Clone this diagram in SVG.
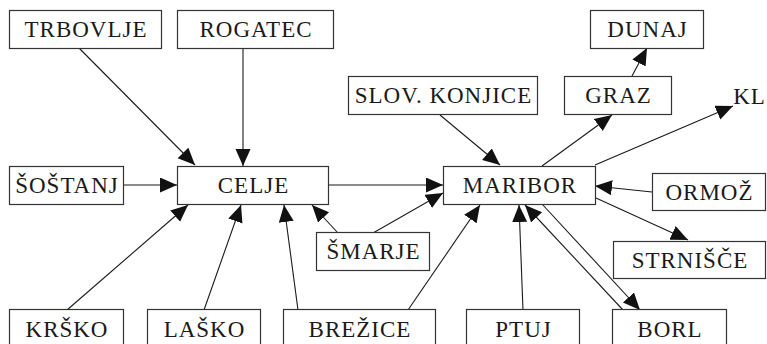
<svg xmlns="http://www.w3.org/2000/svg" width="767" height="344" viewBox="0 0 767 344">
<style>
.box{fill:#fff;stroke:#333;stroke-width:1.2}
.lbl{font-family:"Liberation Serif","DejaVu Serif",serif;font-size:23px;letter-spacing:1px;fill:#1a1a1a;text-anchor:middle}
.edge{stroke:#1a1a1a;stroke-width:1.1;fill:none;marker-end:url(#ah)}
</style>
<defs>
<marker id="ah" markerUnits="userSpaceOnUse" markerWidth="18" markerHeight="16" refX="17" refY="7.5" orient="auto">
<path d="M0,0 L17,7.5 L0,15 Z" fill="#111"/>
</marker>
</defs>
<rect width="767" height="344" fill="#fff"/>
<g id="edges">
<line class="edge" x1="79" y1="48" x2="195" y2="165"/>
<line class="edge" x1="243" y1="48" x2="243" y2="166"/>
<line class="edge" x1="123" y1="185" x2="177" y2="185"/>
<line class="edge" x1="67" y1="310" x2="188" y2="205"/>
<line class="edge" x1="204" y1="310" x2="241" y2="205"/>
<line class="edge" x1="298" y1="310" x2="284" y2="205"/>
<line class="edge" x1="338" y1="233" x2="312" y2="205"/>
<line class="edge" x1="373" y1="233" x2="443" y2="193"/>
<line class="edge" x1="328" y1="185" x2="443" y2="185"/>
<line class="edge" x1="408" y1="310" x2="480" y2="205"/>
<line class="edge" x1="523" y1="310" x2="519" y2="205"/>
<line class="edge" x1="623" y1="310" x2="525" y2="205"/>
<line class="edge" x1="542" y1="204" x2="640" y2="310"/>
<line class="edge" x1="596" y1="198" x2="688" y2="240"/>
<line class="edge" x1="652" y1="192" x2="595" y2="186"/>
<line class="edge" x1="595" y1="165" x2="733" y2="106"/>
<line class="edge" x1="542" y1="166" x2="612" y2="115"/>
<line class="edge" x1="632" y1="76" x2="647" y2="48"/>
<line class="edge" x1="440" y1="115" x2="500" y2="165"/>
</g>
<g id="trbovlje"><rect class="box" x="9.5" y="10.5" width="152" height="38"/><text class="lbl" x="86" y="37">TRBOVLJE</text></g>
<g id="rogatec"><rect class="box" x="177.5" y="10.5" width="156" height="38"/><text class="lbl" x="256" y="37">ROGATEC</text></g>
<g id="dunaj"><rect class="box" x="590.5" y="10.5" width="113" height="38"/><text class="lbl" x="647.5" y="37">DUNAJ</text></g>
<g id="slovkonjice"><rect class="box" x="348.5" y="76.5" width="189" height="38"/><text class="lbl" x="443.5" y="103">SLOV. KONJICE</text></g>
<g id="graz"><rect class="box" x="564.5" y="76.5" width="107" height="38"/><text class="lbl" x="618.5" y="103">GRAZ</text></g>
<g id="kl"><text class="lbl" x="749.5" y="104">KL</text></g>
<g id="sostanj"><rect class="box" x="9.5" y="166.5" width="114" height="38"/><text class="lbl" x="67" y="193">ŠOŠTANJ</text></g>
<g id="celje"><rect class="box" x="177.5" y="166.5" width="151" height="38"/><text class="lbl" x="253.5" y="193">CELJE</text></g>
<g id="maribor"><rect class="box" x="443.5" y="166.5" width="152" height="38"/><text class="lbl" x="520" y="193">MARIBOR</text></g>
<g id="ormoz"><rect class="box" x="652.5" y="173.5" width="113" height="37"/><text class="lbl" x="709.5" y="200">ORMOŽ</text></g>
<g id="smarje"><rect class="box" x="316.5" y="232.5" width="113" height="38"/><text class="lbl" x="373.5" y="259">ŠMARJE</text></g>
<g id="strnisce"><rect class="box" x="613.5" y="241.5" width="152" height="37"/><text class="lbl" x="690" y="268">STRNIŠČE</text></g>
<g id="krsko"><rect class="box" x="9.5" y="309.5" width="114" height="40"/><text class="lbl" x="67" y="337">KRŠKO</text></g>
<g id="lasko"><rect class="box" x="147.5" y="309.5" width="113" height="40"/><text class="lbl" x="204.5" y="337">LAŠKO</text></g>
<g id="brezice"><rect class="box" x="283.5" y="309.5" width="152" height="40"/><text class="lbl" x="360" y="337">BREŽICE</text></g>
<g id="ptuj"><rect class="box" x="466.5" y="309.5" width="113" height="40"/><text class="lbl" x="523.5" y="337">PTUJ</text></g>
<g id="borl"><rect class="box" x="612.5" y="309.5" width="114" height="40"/><text class="lbl" x="670" y="337">BORL</text></g>
</svg>
